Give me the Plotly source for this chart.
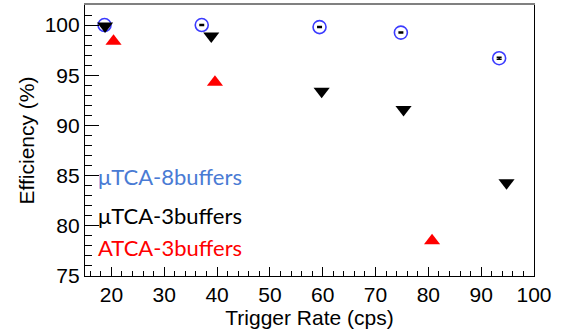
import plotly.graph_objects as go

# Data
rate_8buf = [18.7, 37.1, 59.4, 74.8, 93.4]
eff_8buf = [100.0, 100.0, 99.8, 99.25, 96.7]
err_8buf = [0.05, 0.05, 0.05, 0.05, 0.1]

rate_u3buf = [18.8, 38.9, 59.8, 75.3, 94.8]
eff_u3buf = [99.9, 98.9, 93.4, 91.6, 84.3]

rate_a3buf = [20.4, 39.6, 80.7]
eff_a3buf = [98.4, 94.3, 78.5]

labels = ["\u03bcTCA-8buffers", "\u03bcTCA-3buffers", "ATCA-3buffers"]
label_colors = ["#4a7bd4", "#000000", "#ff0000"]
label_y = [84.9, 81.0, 77.8]

fig = go.Figure()

fig.add_trace(go.Scatter(
    x=rate_8buf, y=eff_8buf, mode="markers",
    marker=dict(symbol="circle-open", size=13, color="#3b3bff", line=dict(width=1.6, color="#3b3bff")),
    error_y=dict(type="data", array=err_8buf, visible=True, color="black", thickness=1.5, width=2.5),
    showlegend=False,
))
fig.add_trace(go.Scatter(
    x=rate_a3buf, y=eff_a3buf, mode="markers",
    marker=dict(symbol="triangle-up", size=14, color="#ff0000"),
    showlegend=False,
))
fig.add_trace(go.Scatter(
    x=rate_u3buf, y=eff_u3buf, mode="markers",
    marker=dict(symbol="triangle-down", size=14, color="#000000"),
    showlegend=False,
))

for t, c, yy in zip(labels, label_colors, label_y):
    fig.add_annotation(text=t, x=0.025, xref="paper", y=yy, yref="y",
                       xanchor="left", yanchor="middle", showarrow=False,
                       font=dict(family="Lato", size=22, color=c))

axis_font = dict(family="Liberation Sans, Arial", size=21, color="black")
title_font = dict(family="Liberation Sans, Arial", size=21, color="black")

fig.update_layout(
    width=562, height=335,
    margin=dict(l=85, r=28, t=5, b=59),
    paper_bgcolor="white", plot_bgcolor="white",
    xaxis=dict(range=[15, 100], dtick=10, tick0=0, ticks="inside", ticklen=9, tickwidth=1,
               tickcolor="black", showline=True, linecolor="black", linewidth=1.2,
               mirror=False, showgrid=False, zeroline=False, tickfont=axis_font,
               automargin=False,
               title=dict(text="Trigger Rate (cps)", font=title_font, standoff=4),
               minor=dict(ticks="inside", ticklen=5, dtick=2, tickcolor="black", showgrid=False)),
    xaxis2=dict(overlaying="x", side="top", matches="x", showline=True, linecolor="#808080",
                linewidth=1.5, showticklabels=False, ticks="", showgrid=False, zeroline=False,
                automargin=False),
    yaxis=dict(range=[75, 102], dtick=5, tick0=0, ticks="inside", ticklen=14, tickwidth=1,
               tickcolor="black", showline=True, linecolor="black", linewidth=1.2,
               mirror=True, showgrid=False, zeroline=False, tickfont=axis_font,
               automargin=False,
               title=dict(text="Efficiency (%)", font=title_font, standoff=4),
               minor=dict(ticks="inside", ticklen=7, dtick=1, tickcolor="black", showgrid=False)),
)
# dummy trace to activate top axis line
fig.add_trace(go.Scatter(x=[None], y=[None], xaxis="x2", showlegend=False, hoverinfo="skip"))

fig.write_html("out.html", config={"displayModeBar": False},
               post_script="document.body.style.margin='0';")
